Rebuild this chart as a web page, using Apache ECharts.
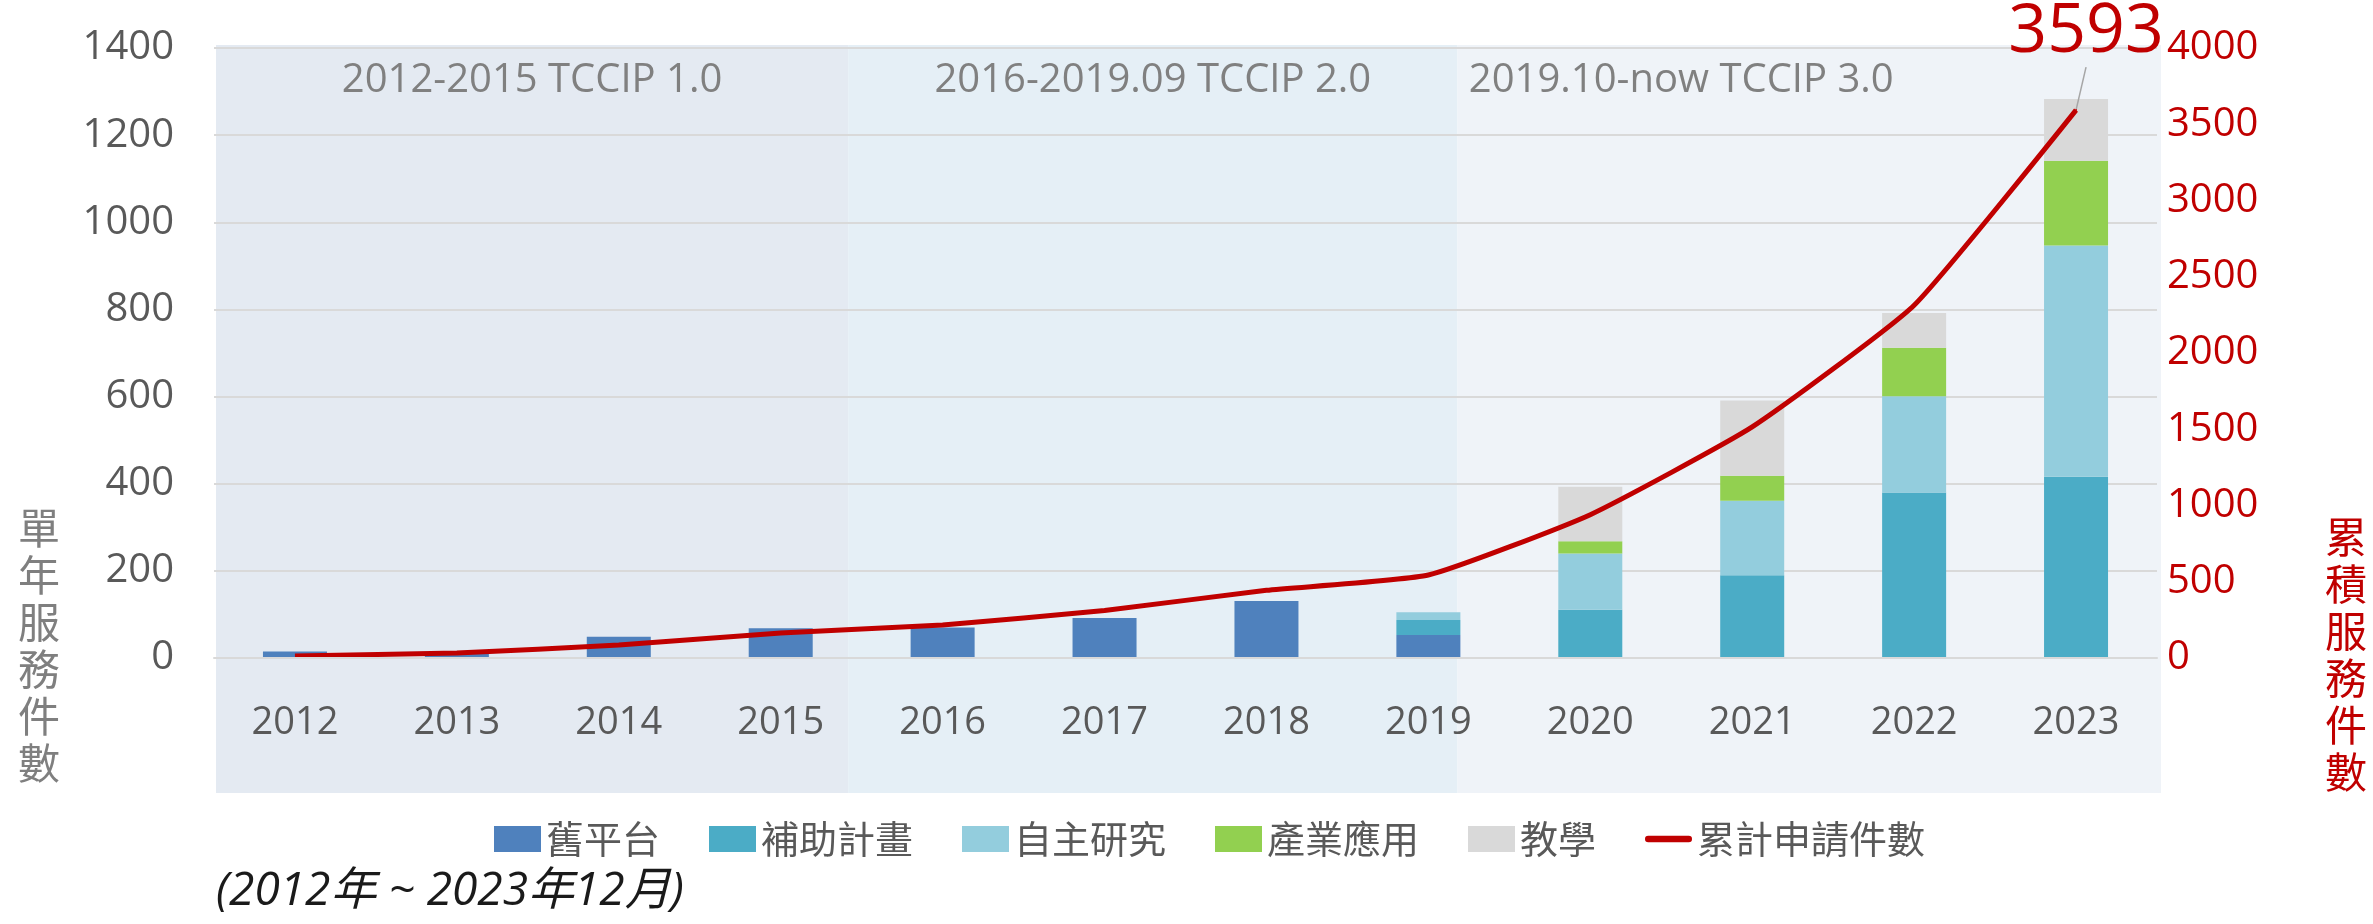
<!DOCTYPE html>
<html lang="zh-Hant">

<head>
    <meta charset="UTF-8">
    <title>TCCIP 服務件數</title>
    <style>
        html, body { margin: 0; padding: 0; background: #fff; }
        #main { width: 2373px; height: 924px; }
    </style>
</head>

<body>
    <div id="main"></div>
</body>
<script src="https://cdn.jsdelivr.net/npm/echarts@6/dist/echarts.min.js"></script>
<script>
    // data
    var years = ['2012', '2013', '2014', '2015', '2016', '2017', '2018', '2019', '2020', '2021', '2022', '2023'];
    var oldPlatform = [15, 10, 49, 68, 70, 92, 131, 53, 0, 0, 0, 0];      // 舊平台
    var subsidy = [0, 0, 0, 0, 0, 0, 0, 34, 111, 190, 380, 416];          // 補助計畫
    var selfResearch = [0, 0, 0, 0, 0, 0, 0, 18, 129, 171, 221, 531];     // 自主研究
    var industry = [0, 0, 0, 0, 0, 0, 0, 0, 28, 57, 111, 194];            // 產業應用
    var teaching = [0, 0, 0, 0, 0, 0, 0, 0, 125, 173, 80, 142];           // 教學
    var cumulative = [13, 33, 85, 164, 216, 312, 444, 544, 940, 1515, 2313, 3593]; // 累計申請件數

    var leftTicks = { min: 0, max: 1400, interval: 200 };
    var rightTicks = { min: 0, max: 4000, interval: 500 };

    // project phases, in category units (2012 band = 0..1)
    var periodNames = ['2012-2015 TCCIP 1.0', '2016-2019.09 TCCIP 2.0', '2019.10-now TCCIP 3.0'];
    var periodStart = [0, 3.9, 7.66];
    var periodEnd = [3.9, 7.66, 12];
    var periodColors = ['#e4eaf2', '#e5eff6', '#eff3f8'];

    var latin = "'Open Sans', 'Noto Sans CJK TC', sans-serif";
    var cjk = "'Noto Sans CJK TC', 'Open Sans', sans-serif";

    var myChart = echarts.init(document.getElementById('main'))

    var areas = []
    for (var i = 0; i < periodNames.length; i++) {
        areas.push([{
            name: periodNames[i],
            xAxis: periodStart[i],
            yAxis: 0,
            itemStyle: { color: periodColors[i] },
            label: { offset: [i == 2 ? -128 : 0, 0] }
        }, {
            xAxis: periodEnd[i],
            yAxis: 1
        }])
    }

    function barSeries(name, data, color) {
        return {
            name: name,
            type: 'bar',
            stack: 'total',
            barWidth: 64,
            data: data,
            itemStyle: { color: color },
            z: 3
        }
    }

    function plain(v) {
        return String(v)
    }

    var option = {
        animation: false,
        backgroundColor: '#fff',
        grid: [
            { left: 214, right: 216, top: 48, bottom: 266 },
            { left: 216, right: 212, top: 45, bottom: 131 }
        ],
        legend: {
            left: 489,
            top: 815,
            itemWidth: 47,
            itemHeight: 26,
            itemGap: 49,
            textStyle: { fontFamily: cjk, fontSize: 38, color: '#595959' },
            data: [
                { name: '舊平台', icon: 'rect' },
                { name: '補助計畫', icon: 'rect' },
                { name: '自主研究', icon: 'rect' },
                { name: '產業應用', icon: 'rect' },
                { name: '教學', icon: 'rect' },
                { name: '累計申請件數', icon: 'path://M3,0 L47,0 A3,3 0 0 1 47,7 L3,7 A3,3 0 0 1 3,0 Z' }
            ]
        },
        xAxis: [{
            type: 'category',
            data: years,
            gridIndex: 0,
            z: 6,
            axisLine: { lineStyle: { color: '#d9d9d9', width: 2 } },
            axisTick: { show: false },
            axisLabel: { color: '#595959', fontFamily: latin, fontSize: 38, margin: 46, interval: 0 }
        }, {
            type: 'value',
            gridIndex: 1,
            min: 0,
            max: 12,
            show: false
        }],
        yAxis: [{
            type: 'value',
            gridIndex: 0,
            z: 1,
            min: leftTicks.min,
            max: leftTicks.max,
            interval: leftTicks.interval,
            axisLine: { show: false },
            axisTick: { show: false },
            axisLabel: { color: '#595959', fontFamily: latin, fontSize: 40, margin: 40, formatter: plain },
            splitLine: { lineStyle: { color: '#d9d9d9', width: 2 } }
        }, {
            type: 'value',
            gridIndex: 0,
            z: 6,
            min: rightTicks.min,
            max: rightTicks.max,
            interval: rightTicks.interval,
            position: 'right',
            axisLine: { show: false },
            axisTick: { show: false },
            axisLabel: { color: '#c00000', fontFamily: latin, fontSize: 40, margin: 10, formatter: plain },
            splitLine: { show: false }
        }, {
            type: 'value',
            gridIndex: 1,
            min: 0,
            max: 1,
            show: false
        }],
        series: [{
            // background phase bands
            type: 'line',
            xAxisIndex: 1,
            yAxisIndex: 2,
            data: [[0, 0], [12, 0]],
            symbol: 'none',
            lineStyle: { width: 0, opacity: 0 },
            silent: true,
            z: -5,
            markArea: {
                silent: true,
                z: -5,
                label: {
                    show: true,
                    position: 'insideTop',
                    distance: 16,
                    color: '#808080',
                    fontFamily: latin,
                    fontSize: 40
                },
                data: areas
            }
        },
            barSeries('舊平台', oldPlatform, '#4f81bd'),
            barSeries('補助計畫', subsidy, '#4bacc6'),
            barSeries('自主研究', selfResearch, '#93cddd'),
            barSeries('產業應用', industry, '#92d050'),
            barSeries('教學', teaching, '#d9d9d9'),
        {
            name: '累計申請件數',
            type: 'line',
            yAxisIndex: 1,
            data: cumulative.map(function (v, i) {
                if (i == cumulative.length - 1) {
                    return {
                        value: v,
                        symbol: 'circle',
                        symbolSize: 2,
                        label: { show: true },
                        labelLine: { show: true }
                    }
                }
                return v
            }),
            smooth: 0.15,
            symbol: 'none',
            showSymbol: true,
            color: '#c00000',
            lineStyle: { color: '#c00000', width: 5 },
            z: 5,
            label: {
                show: false,
                position: 'top',
                distance: 8,
                color: '#c00000',
                fontFamily: latin,
                fontSize: 68,
                formatter: '{c}'
            },
            labelLine: {
                show: true,
                lineStyle: { color: '#a6a6a6', width: 1.5 }
            },
            labelLayout: { dx: 10, dy: -34 }
        }],
        graphic: [{
            type: 'text',
            left: 18,
            top: 505,
            style: {
                text: '單\n年\n服\n務\n件\n數',
                fill: '#7f7f7f',
                font: '42px ' + cjk,
                lineHeight: 47
            }
        }, {
            type: 'text',
            left: 2325,
            top: 514,
            style: {
                text: '累\n積\n服\n務\n件\n數',
                fill: '#c00000',
                font: '42px ' + cjk,
                lineHeight: 47
            }
        }, {
            type: 'text',
            left: 216,
            top: 869,
            style: {
                text: '(2012年 ~ 2023年12月)',
                fill: '#1a1a1a',
                font: 'italic 46px ' + latin
            }
        }]
    }

    myChart.setOption(option)
</script>

</html>
